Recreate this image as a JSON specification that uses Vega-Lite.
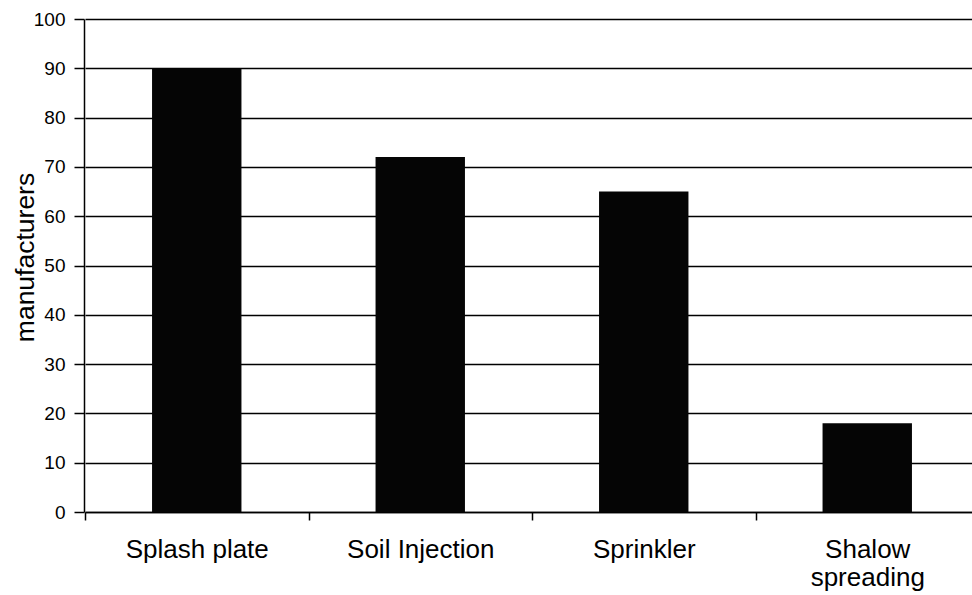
{
  "$schema": "https://vega.github.io/schema/vega-lite/v6.json",
  "width": 888,
  "height": 493,
  "autosize": {"type": "none"},
  "padding": {"left": 84, "top": 19, "right": 0, "bottom": 83},
  "background": "white",
  "config": {
    "view": {"stroke": null},
    "font": "Liberation Sans",
    "axis": {"labelFont": "Liberation Sans", "titleFont": "Liberation Sans", "labelColor": "black", "titleColor": "black"}
  },
  "data": {
    "values": [
      {"method": "Splash plate", "manufacturers": 90},
      {"method": "Soil Injection", "manufacturers": 72},
      {"method": "Sprinkler", "manufacturers": 65},
      {"method": "Shalow spreading", "manufacturers": 18}
    ]
  },
  "mark": {"type": "bar", "color": "#050505", "width": {"band": 0.4}},
  "encoding": {
    "x": {
      "field": "method",
      "type": "nominal",
      "sort": null,
      "scale": {"paddingInner": 0, "paddingOuter": 0, "range": [1, 895]},
      "axis": {
        "title": null,
        "labelAngle": 0,
        "labelFontSize": 26,
        "labelPadding": 16,
        "labelLineHeight": 28,
        "labelExpr": "datum.label == 'Shalow spreading' ? ['Shalow', 'spreading'] : datum.label",
        "tickBand": "extent",
        "tickSize": 8,
        "tickColor": "black",
        "tickWidth": 1.5,
        "domainColor": "black",
        "domainWidth": 1.5,
        "grid": false
      }
    },
    "y": {
      "field": "manufacturers",
      "type": "quantitative",
      "scale": {"domain": [0, 100], "nice": false},
      "axis": {
        "title": "manufacturers",
        "titleFontSize": 26.5,
        "titleFontWeight": "normal",
        "titleBaseline": "alphabetic",
        "titleAlign": "center",
        "titleAngle": -90,
        "titleX": -51,
        "titleY": 238,
        "values": [0, 10, 20, 30, 40, 50, 60, 70, 80, 90, 100],
        "labelFontSize": 19,
        "labelPadding": 9,
        "tickSize": 10,
        "tickColor": "black",
        "tickWidth": 1.5,
        "domainColor": "black",
        "domainWidth": 1.5,
        "grid": true,
        "gridColor": "black",
        "gridWidth": 1.5,
        "gridOpacity": 1
      }
    }
  }
}
